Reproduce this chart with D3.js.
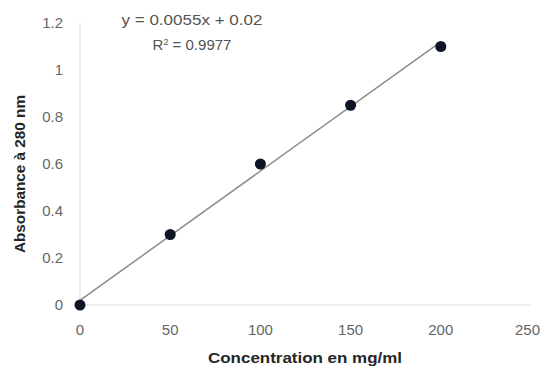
<!DOCTYPE html>
<html><head><meta charset="utf-8">
<script src="https://cdn.jsdelivr.net/npm/d3@7"></script>
<style>body{margin:0;background:#fff}svg{display:block}</style>
</head><body>
<script>
const concentrations = [0, 50, 100, 150, 200];
const absorbances = [0, 0.30, 0.60, 0.85, 1.10];
const xTicks = [0, 50, 100, 150, 200, 250];
const yTicks = [0, 0.2, 0.4, 0.6, 0.8, 1, 1.2];
const slope = 0.0055, intercept = 0.02;
const equationText = "y = 0.0055x + 0.02";
const r2Value = "0.9977";
const xTitle = "Concentration en mg/ml";
const yTitle = "Absorbance à 280 nm";

const W = 542, H = 369;
const svg = d3.select("body").append("svg").attr("width", W).attr("height", H);
const x = d3.scaleLinear().domain([0, 250]).range([80, 531]);
const y = d3.scaleLinear().domain([0, 1.2]).range([305, 23]);
const font = "'Liberation Sans', Arial, sans-serif";

// axes lines
svg.append("line").attr("x1", x(0)).attr("x2", x(250)).attr("y1", y(0)).attr("y2", y(0))
  .attr("stroke", "#d9d9d9").attr("stroke-width", 1);
svg.append("line").attr("x1", x(0)).attr("x2", x(0)).attr("y1", y(0)).attr("y2", y(1.2))
  .attr("stroke", "#d9d9d9").attr("stroke-width", 1);

// tick labels (last one kept inside the window)
svg.selectAll(".xt").data(xTicks).join("text")
  .attr("x", (d, i) => i === xTicks.length - 1 ? W - 2 : x(d))
  .attr("y", 330).attr("dy", "0.35em")
  .attr("text-anchor", (d, i) => i === xTicks.length - 1 ? "end" : "middle")
  .attr("font-family", font).attr("font-size", 15).attr("fill", "#666").text(d => d);
svg.selectAll(".yt").data(yTicks).join("text")
  .attr("x", 63).attr("y", d => y(d)).attr("dy", "0.35em").attr("text-anchor", "end")
  .attr("font-family", font).attr("font-size", 15).attr("fill", "#666").text(d => d);

// trendline
svg.append("line")
  .attr("x1", x(0)).attr("y1", y(intercept))
  .attr("x2", x(200)).attr("y2", y(slope * 200 + intercept))
  .attr("stroke", "#8c8c8c").attr("stroke-width", 1.5);

// points
svg.selectAll(".pt").data(concentrations).join("circle")
  .attr("cx", d => x(d)).attr("cy", (d, i) => y(absorbances[i])).attr("r", 5.5)
  .attr("fill", "#0d1526");

// equation
svg.append("text").attr("x", 192).attr("y", 20).attr("dy", "0.35em").attr("text-anchor", "middle")
  .attr("font-family", font).attr("font-size", 15).attr("fill", "#555")
  .attr("textLength", 141).attr("lengthAdjust", "spacingAndGlyphs").text(equationText);
const r2 = svg.append("text").attr("x", 192).attr("y", 45).attr("dy", "0.35em").attr("text-anchor", "middle")
  .attr("font-family", font).attr("font-size", 15).attr("fill", "#555");
r2.append("tspan").text("R");
r2.append("tspan").attr("baseline-shift", "super").attr("font-size", 9).text("2");
r2.append("tspan").text(" = " + r2Value);

// axis titles
svg.append("text").attr("x", 305).attr("y", 358).attr("dy", "0.35em").attr("text-anchor", "middle")
  .attr("font-family", font).attr("font-size", 14).attr("font-weight", "bold").attr("fill", "#262626")
  .attr("textLength", 194).attr("lengthAdjust", "spacingAndGlyphs").text(xTitle);
svg.append("text").attr("transform", "translate(20,174) rotate(-90)").attr("dy", "0.35em")
  .attr("text-anchor", "middle")
  .attr("font-family", font).attr("font-size", 14).attr("font-weight", "bold").attr("fill", "#262626")
  .attr("textLength", 158).attr("lengthAdjust", "spacingAndGlyphs").text(yTitle);
</script>
</body></html>
